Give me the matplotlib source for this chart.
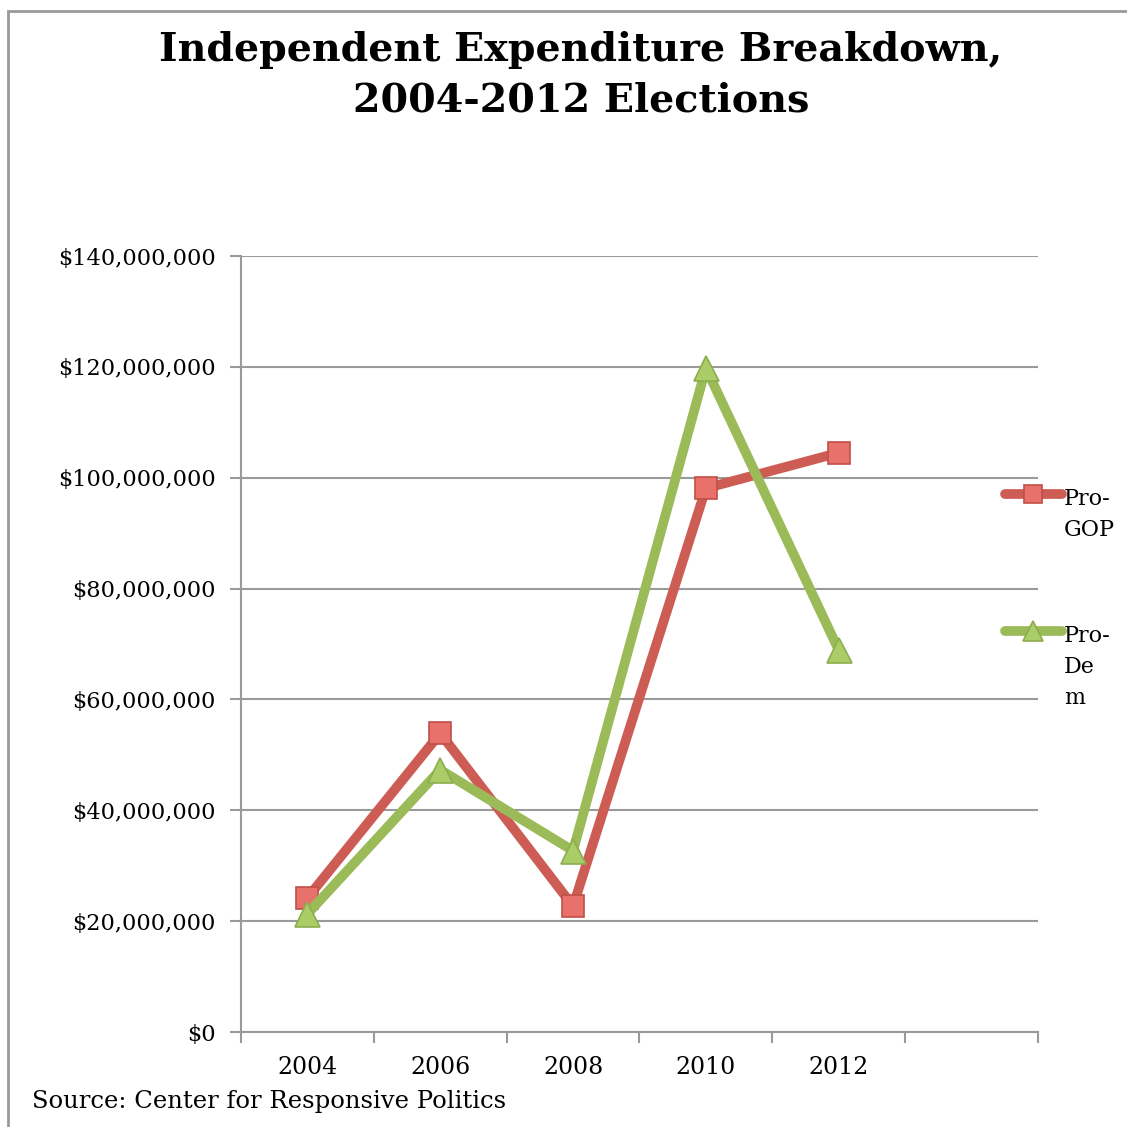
import matplotlib.pyplot as plt
import matplotlib.patches as patches
from matplotlib.lines import Line2D
from matplotlib.ticker import FuncFormatter, FixedLocator
import numpy as np

plt.rcParams['font.family'] = 'DejaVu Serif'

# data (millions of dollars)
years = ['2004', '2006', '2008', '2010', '2012']
pro_gop = [24.2, 53.9, 22.7, 98.1, 104.5]
pro_dem = [21.3, 47.3, 32.7, 119.8, 68.9]
series_labels = [['Pro-', 'GOP'], ['Pro-', 'De', 'm']]

red_line = '#cd5c55'
red_face = '#e8716c'
red_edge = '#c24f49'
green_line = '#9bbb59'
green_face = '#aacd68'
green_edge = '#8cad4e'
grid_col = '#9a9a9a'

W = 1127.0
fig = plt.figure(figsize=(11.27, 11.27), dpi=100)
ax = fig.add_axes([241/W, 95/W, 797/W, 776/W])

x = np.arange(len(years))
vals_gop = np.array(pro_gop) * 1e6
vals_dem = np.array(pro_dem) * 1e6

style_gop = dict(color=red_line, lw=7, marker='s', ms=16, mfc=red_face,
                 mec=red_edge, mew=1.2, solid_capstyle='round')
style_dem = dict(color=green_line, lw=7, marker='^', ms=18, mfc=green_face,
                 mec=green_edge, mew=1.2, solid_capstyle='round')
ax.plot(x, vals_gop, zorder=3, **style_gop)
ax.plot(x, vals_dem, zorder=4, **style_dem)

ax.set_xlim(-0.5, 5.5)
ax.set_ylim(0, 140e6)
ax.set_yticks(np.arange(0, 140e6 + 1, 20e6))
ax.yaxis.set_major_formatter(FuncFormatter(lambda v, p: '${:,.0f}'.format(v)))
ax.yaxis.grid(True, color=grid_col, lw=1.5)
ax.set_axisbelow(True)

ax.set_xticks(x)
ax.set_xticklabels(years)
ax.xaxis.set_minor_locator(FixedLocator(np.arange(-0.5, 6, 1)))
ax.tick_params(axis='x', which='major', length=0, pad=17, labelsize=17)
ax.tick_params(axis='x', which='minor', length=8, width=1.5, color=grid_col, direction='out')
ax.tick_params(axis='y', length=8, width=1.5, color=grid_col, pad=10, labelsize=16.2)

for s in ['top', 'right']:
    ax.spines[s].set_visible(False)
for s in ['left', 'bottom']:
    ax.spines[s].set_color(grid_col)
    ax.spines[s].set_linewidth(1.5)

# legend, drawn by hand so the marker sits on the first text line
for i, (style, lines) in enumerate(zip([style_gop, style_dem], series_labels)):
    ym = 494 + i * 137
    line_style = dict(style, marker='None')
    mark_style = dict(style, ms=style['ms'] * 0.8)
    fig.add_artist(Line2D([1005/W, 1062/W], [1 - ym/W, 1 - ym/W], **line_style))
    fig.add_artist(Line2D([1033/W], [1 - ym/W], **mark_style))
    for j, t in enumerate(lines):
        fig.text(1064/W, 1 - (ym + 11 + j * 31)/W, t, ha='left', va='baseline',
                 fontsize=16)

fig.text(581/W, 1 - 61/W, 'Independent Expenditure Breakdown,',
         ha='center', va='baseline', fontsize=28.5, fontweight='bold')
fig.text(581/W, 1 - 112/W, '2004-2012 Elections',
         ha='center', va='baseline', fontsize=28.5, fontweight='bold')
fig.text(32/W, 1 - 1108/W, 'Source: Center for Responsive Politics',
         ha='left', va='baseline', fontsize=17.5)

# outer frame
fig.patches.append(patches.Rectangle((8/W, -0.05), 1.2, 1 - 11/W + 0.05,
                                     transform=fig.transFigure, fill=False,
                                     edgecolor='#9a9a9a', lw=2))

fig.savefig('out.png', dpi=100)
